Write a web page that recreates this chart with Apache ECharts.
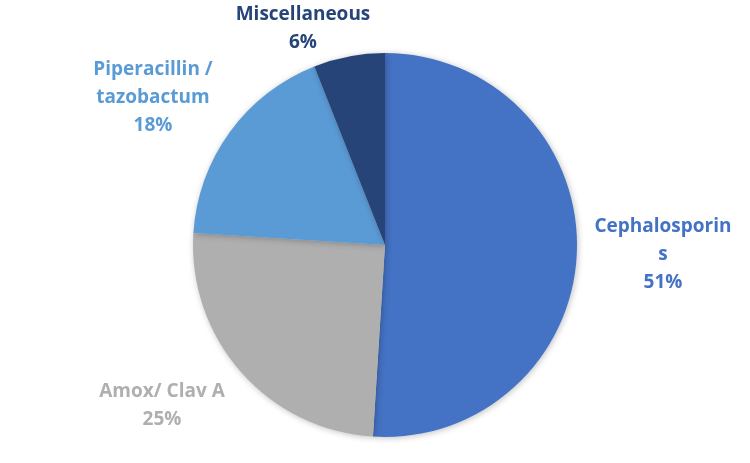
<!DOCTYPE html>
<html><head><meta charset="utf-8">
<script src="https://cdn.jsdelivr.net/npm/echarts@6/dist/echarts.min.js"></script>
<style>html,body{margin:0;padding:0;background:#fff}#c{width:750px;height:463px}</style>
</head><body><div id="c"></div>
<script>
const categories = ['Cephalosporins', 'Amox/ Clav A', 'Piperacillin / tazobactum', 'Miscellaneous'];
const labelNames = ['Cephalosporin\ns', 'Amox/ Clav A', 'Piperacillin /\ntazobactum', 'Miscellaneous'];
const values = [51, 25, 18, 6];
const colors = ['#4472C4', '#AFAFAF', '#5B9BD5', '#264478'];
const labelPos = [[663, 255], [162, 406], [153, 98], [303, 29]];

const chart = echarts.init(document.getElementById('c'));
chart.setOption({
  animation: false,
  series: [{
    type: 'pie',
    center: [385, 245],
    radius: 192,
    startAngle: 90,
    clockwise: true,
    data: categories.map((c, i) => ({
      name: c, value: values[i],
      itemStyle: { color: colors[i] },
      label: { color: colors[i] }
    })),
    itemStyle: { shadowBlur: 6, shadowColor: 'rgba(0,0,0,0.25)', shadowOffsetX: 1, shadowOffsetY: 1 },
    label: {
      show: true,
      formatter: p => labelNames[p.dataIndex] + '\n' + p.percent.toFixed(0) + '%',
      fontFamily: 'Open Sans',
      fontWeight: 'bold',
      fontSize: 19,
      lineHeight: 28,
      align: 'center',
      overflow: 'none',
      width: 200
    },
    labelLine: { show: false },
    labelLayout: p => ({ x: labelPos[p.dataIndex][0], y: labelPos[p.dataIndex][1], align: 'center', verticalAlign: 'middle' })
  }]
});
</script></body></html>
